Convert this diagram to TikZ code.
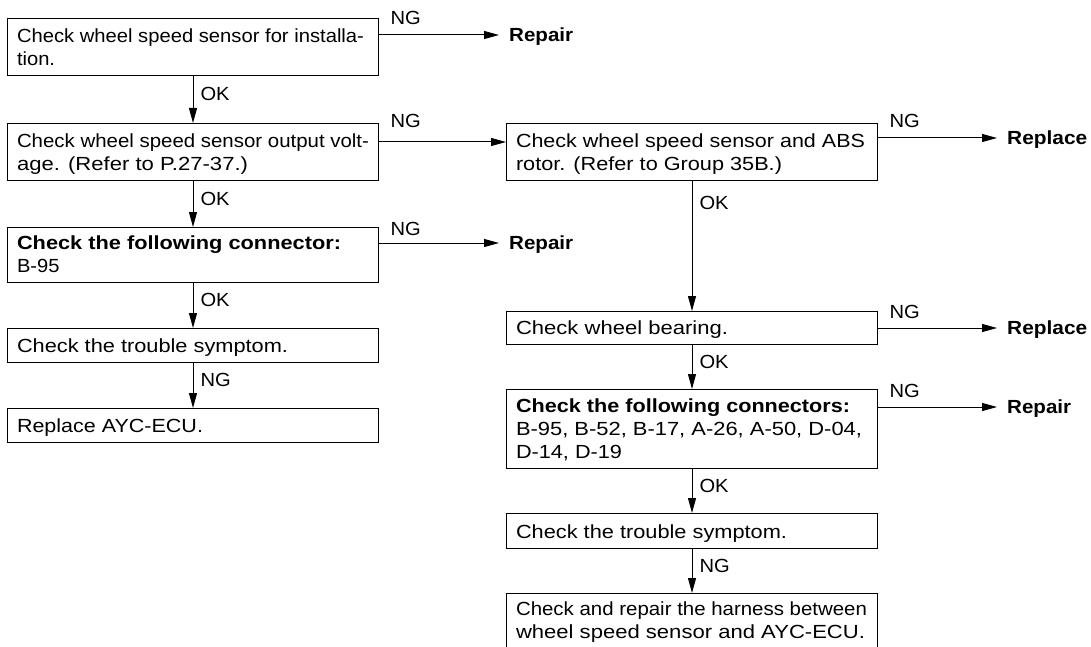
\documentclass[tikz,border=0pt]{standalone}
\usepackage{fontspec}
\usepackage{graphicx}
\setmainfont{Liberation Sans}[FakeStretch=1.06]
\usetikzlibrary{arrows.meta,calc}
\hbadness=10000
\hfuzz=30pt
\newdimen\bxw
\bxw=371pt
\newcommand\Ln[1]{\hbox to \bxw{\hskip 9.5pt #1\hfil}}
\newcommand\Jl[2]{\hbox to \bxw{\hskip 9.5pt\resizebox{#1pt}{\height}{#2}\hfil}}
\newcommand\Tb[1]{\vtop{\baselineskip=23pt\lineskiplimit=-30pt\lineskip=0pt #1}}
\newcommand\Wd[2]{\resizebox{#1pt}{\height}{#2}}
\tikzset{
  every node/.style={font=\fontsize{19}{23}\selectfont},
  box/.style 2 args={draw, line width=1pt, anchor=north west, inner sep=0pt,
    text height=#1, text depth=#2},
  arr/.style={line width=1pt, -{Triangle[length=15pt,width=8pt]}},
  lab/.style={anchor=base west, inner sep=0pt, xshift=7pt, yshift=-1pt},
  ng/.style={anchor=base west, inner sep=0pt, pos=0, xshift=11pt},
  act/.style={anchor=west, inner sep=0pt, text height=13.6pt, text depth=0pt,
    font=\fontsize{19}{23}\selectfont\bfseries},
}
\begin{document}
\begin{tikzpicture}[x=1pt,y=-1pt]
\useasboundingbox (0,0) rectangle (1091,647);

% left column
\node[box={24pt}{33pt}] (L1) at (7,18)
  {\Tb{\Jl{347}{Check wheel speed sensor for installa-}\Ln{tion.}}};
\node[box={24pt}{33pt}] (L2) at (7,123)
  {\Tb{\Jl{352}{Check wheel speed sensor output volt-}\Jl{231}{age. (Refer to P.27-37.)}}};
\node[box={22pt}{33pt}] (L3) at (7,227)
  {\Tb{\Jl{324}{\bfseries Check the following connector:}\Ln{B-95}}};
\node[box={24pt}{10pt}] (L4) at (7,328)
  {\Tb{\Jl{271}{Check the trouble symptom.}}};
\node[box={24pt}{10pt}] (L5) at (7,408)
  {\Tb{\Jl{186}{Replace AYC-ECU.}}};

% right column
\node[box={24pt}{33pt}] (R1) at (506,123)
  {\Tb{\Jl{349}{Check wheel speed sensor and ABS}\Jl{266}{rotor. (Refer to Group 35B.)}}};
\node[box={23pt}{10pt}] (R2) at (506,311)
  {\Tb{\Jl{212}{Check wheel bearing.}}};
\node[box={23pt}{56pt}] (R3) at (506,389)
  {\Tb{\Jl{334}{\bfseries Check the following connectors:}\Jl{346}{B-95, B-52, B-17, A-26, A-50, D-04,}\Jl{106}{D-14, D-19}}};
\node[box={25pt}{10pt}] (R4) at (506,513)
  {\Tb{\Jl{271}{Check the trouble symptom.}}};
\node[box={22pt}{62pt}] (R5) at (506,593)
  {\Tb{\Jl{351}{Check and repair the harness between}\Jl{349}{wheel speed sensor and AYC-ECU.}}};

% outcome nodes
\node[act] (rp1) at (509,35) {\Wd{64}{Repair}};
\node[act] (rp3) at (509,243) {\Wd{64}{Repair}};
\node[act] (rs1) at (1007,138) {\Wd{80}{Replace}};
\node[act] (rs2) at (1007,328) {\Wd{80}{Replace}};
\node[act] (rp4) at (1007,407) {\Wd{64}{Repair}};

% vertical connectors
\draw[arr] (L1) -- node[lab, midway] {OK} (L2);
\draw[arr] (L2) -- node[lab, midway] {OK} (L3);
\draw[arr] (L3) -- node[lab, midway] {OK} (L4);
\draw[arr] (L4) -- node[lab, midway] {NG} (L5);
\draw[arr] (R1) -- node[lab, pos=0.21] {OK} (R2);
\draw[arr] (R2) -- node[lab, midway] {OK} (R3);
\draw[arr] (R3) -- node[lab, midway] {OK} (R4);
\draw[arr] (R4) -- node[lab, midway] {NG} (R5);

% horizontal connectors
\draw[arr, shorten >=10pt] (L1.east |- rp1) -- node[ng, yshift=10pt] {NG} (rp1.west);
\draw[arr] ([yshift=-19pt]L2.north east) -- node[ng, yshift=14pt] {NG} ([yshift=-19pt]R1.north west);
\draw[arr, shorten >=10pt] (L3.east |- rp3) -- node[ng, yshift=8pt] {NG} (rp3.west);
\draw[arr, shorten >=10pt] (R1.east |- rs1) -- node[ng, yshift=10pt] {NG} (rs1.west);
\draw[arr, shorten >=10pt] (R2.east |- rs2) -- node[ng, yshift=10pt] {NG} (rs2.west);
\draw[arr, shorten >=10pt] (R3.east |- rp4) -- node[ng, yshift=10pt] {NG} (rp4.west);
\end{tikzpicture}
\end{document}
